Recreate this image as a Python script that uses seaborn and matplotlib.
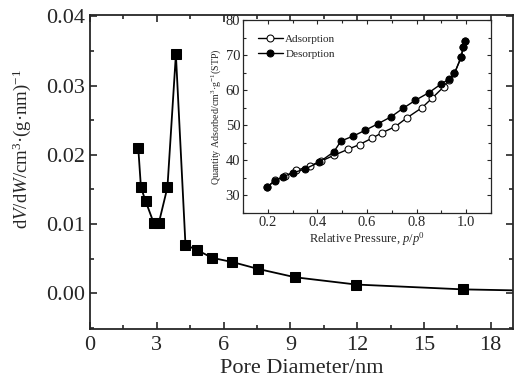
import numpy as np
import pandas as pd
import matplotlib
matplotlib.use("Agg")
import matplotlib.pyplot as plt
from matplotlib.ticker import MultipleLocator, FormatStrFormatter
import seaborn as sns

# Pore size distribution (BJH)
pore_diameter = [2.17, 2.29, 2.50, 2.87, 3.09, 3.48, 3.86, 4.29, 4.83, 5.50, 6.40,
                 7.56, 9.22, 11.96, 16.77, 24.0]
dv_dw = [0.0210, 0.0153, 0.0133, 0.0101, 0.0101, 0.0153, 0.0345, 0.0070, 0.0062,
         0.0051, 0.0045, 0.0035, 0.0023, 0.00125, 0.00055, 0.0001]

# N2 sorption isotherm
ads_p = [0.197, 0.23, 0.27, 0.315, 0.369, 0.416, 0.466, 0.522, 0.57, 0.62, 0.662,
         0.714, 0.761, 0.822, 0.864, 0.909, 0.93, 0.953, 0.98, 0.988, 0.997]
ads_q = [32.4, 34.3, 35.5, 37.1, 38.4, 39.8, 41.4, 43.1, 44.5, 46.3, 47.9,
         49.6, 52.1, 55.0, 57.8, 60.9, 63.0, 64.8, 69.4, 72.3, 74.1]
des_p = [0.197, 0.227, 0.26, 0.30, 0.349, 0.408, 0.466, 0.495, 0.544, 0.591, 0.644,
         0.697, 0.745, 0.795, 0.85, 0.90, 0.93, 0.953, 0.98, 0.988, 0.997]
des_q = [32.4, 34.1, 35.3, 36.4, 37.5, 39.5, 42.4, 45.5, 46.9, 48.5, 50.4,
         52.4, 54.8, 57.1, 59.3, 61.8, 63.1, 64.8, 69.4, 72.3, 74.1]

sns.set_style("ticks")
plt.rcParams["font.family"] = ["Liberation Serif", "DejaVu Serif"]
plt.rcParams["mathtext.fontset"] = "custom"
plt.rcParams["mathtext.rm"] = "Liberation Serif"
plt.rcParams["mathtext.it"] = "Liberation Serif:italic"

fig = plt.figure(figsize=(5.14, 3.85), dpi=100)
ax = fig.add_axes([0.175, 0.145, 0.823, 0.816])

psd = pd.DataFrame({"d": pore_diameter, "v": dv_dw})
sns.lineplot(data=psd, x="d", y="v", ax=ax, color="black", lw=1.3,
             marker="s", markersize=6.5, markeredgecolor="black", sort=False)
ax.set_xlim(0, 19)
ax.set_ylim(-0.0052, 0.0402)
ax.xaxis.set_major_locator(MultipleLocator(3))
ax.xaxis.set_minor_locator(MultipleLocator(1.5))
ax.yaxis.set_major_locator(MultipleLocator(0.01))
ax.yaxis.set_minor_locator(MultipleLocator(0.005))
ax.yaxis.set_major_formatter(FormatStrFormatter("%.2f"))
ax.tick_params(which="both", direction="in", top=True, right=True,
               labelsize=16, width=1.2)
ax.tick_params(axis="x", pad=5)
ax.tick_params(which="major", length=5)
ax.tick_params(which="minor", length=3)
for s in ax.spines.values():
    s.set_linewidth(1.3)
ax.set_xlabel("Pore Diameter/nm", fontsize=16, labelpad=3)
ax.set_ylabel(r"d$\it{V}$/d$\it{W}$/cm$^{3}$·(g·nm)$^{-1}$",
              fontsize=13.5, labelpad=6)
ax.yaxis.set_label_coords(-0.135, 0.575)

# Inset: isotherm
ins = fig.add_axes([0.473, 0.447, 0.482, 0.501])
iso = pd.DataFrame({
    "p": ads_p + des_p,
    "q": ads_q + des_q,
    "branch": ["Adsorption"] * len(ads_p) + ["Desorption"] * len(des_p),
})
sns.lineplot(data=iso[iso.branch == "Adsorption"], x="p", y="q", ax=ins,
             color="black", lw=1.0, marker="o", markersize=5,
             markerfacecolor="white", markeredgecolor="black",
             label="Adsorption", sort=False)
sns.lineplot(data=iso[iso.branch == "Desorption"], x="p", y="q", ax=ins,
             color="black", lw=1.0, marker="o", markersize=5,
             markerfacecolor="black", markeredgecolor="black",
             label="Desorption", sort=False)
ins.set_xlim(0.1, 1.1)
ins.set_ylim(25, 80)
ins.xaxis.set_major_locator(MultipleLocator(0.2))
ins.xaxis.set_minor_locator(MultipleLocator(0.1))
ins.yaxis.set_major_locator(MultipleLocator(10))
ins.yaxis.set_minor_locator(MultipleLocator(5))
ins.tick_params(which="both", direction="in", top=True, right=True,
                labelsize=10.5, width=0.8, pad=2)
ins.tick_params(which="major", length=3)
ins.tick_params(which="minor", length=2)
for s in ins.spines.values():
    s.set_linewidth(0.9)
ins.set_xlabel(r"Relative Pressure, $\it{p}$/$\it{p}^{0}$", fontsize=9,
               labelpad=1)
ins.set_ylabel(r"Quantity Adsorbed/cm$^{3}$·g$^{-1}$(STP)", fontsize=7.2,
               labelpad=2)
ins.legend(loc="upper left", frameon=False, fontsize=8, handlelength=2.3,
           handletextpad=0.2, borderaxespad=0.9, labelspacing=0.45)

fig.savefig("out.png", dpi=100)
